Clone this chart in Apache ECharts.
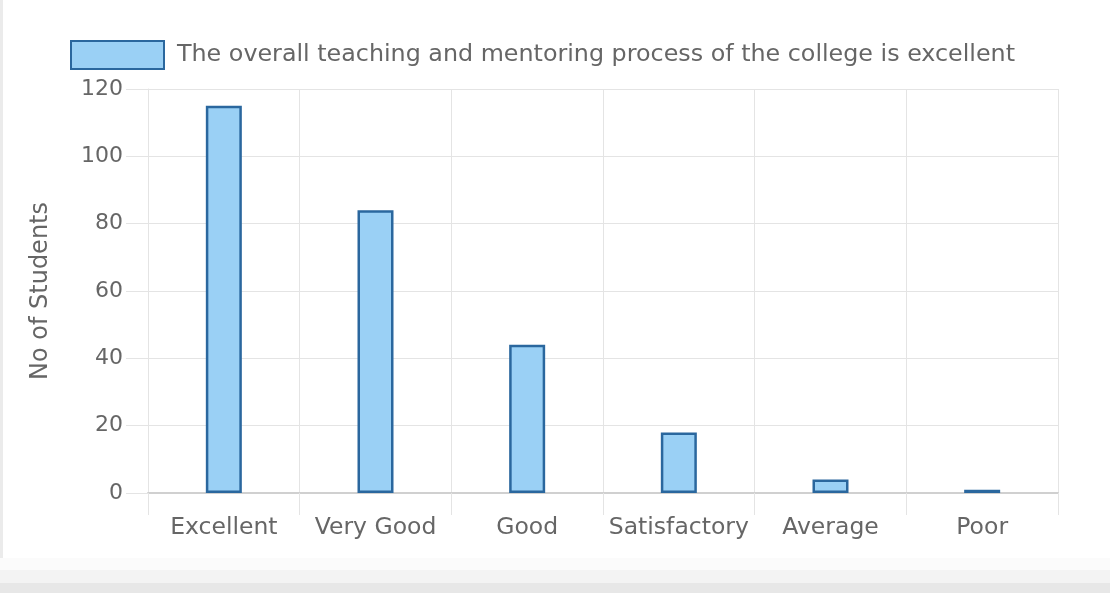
<!DOCTYPE html>
<html>
<head>
<meta charset="utf-8">
<script src="https://cdn.jsdelivr.net/npm/echarts@6/dist/echarts.min.js"></script>
<style>
html,body{margin:0;padding:0;background:#fff;}
#chart{width:1110px;height:593px;}
</style>
</head>
<body>
<div id="chart"></div>
<script>
// data
var categories = ["Excellent", "Very Good", "Good", "Satisfactory", "Average", "Poor"];
var students = [115, 84, 44, 18, 4, 1];
var seriesName = "The overall teaching and mentoring process of the college is excellent";
var yTicks = [0, 20, 40, 60, 80, 100, 120];

var FONT = "DejaVu Sans, Liberation Sans, Arial, sans-serif";
var TXT = "#666";

var myChart = echarts.init(document.getElementById("chart"));
var option = {
	backgroundColor: "#fff",
	animation: false,
	graphic: [
		// frame of the screenshot: left border and grey band at the bottom
		{type: "rect", left: 0, top: 0, shape: {width: 3, height: 586}, style: {fill: "#ebebeb"}},
		{type: "rect", left: 0, top: 558, shape: {width: 1110, height: 12}, style: {fill: "#fbfbfb"}},
		{type: "rect", left: 0, top: 570, shape: {width: 1110, height: 13}, style: {fill: "#f3f3f3"}},
		{type: "rect", left: 0, top: 583, shape: {width: 1110, height: 10}, style: {fill: "#e7e7e7"}}
	],
	legend: {
		left: 65,
		top: 35,
		itemWidth: 93,
		itemHeight: 28,
		icon: "rect",
		textStyle: {fontFamily: FONT, fontSize: 23.8, color: TXT, padding: [0, 0, 0, 8]},
		data: [seriesName]
	},
	grid: {left: 148, right: 52, top: 89, bottom: 100},
	xAxis: {
		type: "category",
		data: categories,
		boundaryGap: true,
		axisLine: {show: true, lineStyle: {color: "#d0d0d0", width: 2}},
		axisTick: {show: true, interval: 0, length: 22, lineStyle: {color: "#e4e4e4"}},
		splitLine: {show: true, interval: 0, lineStyle: {color: "#e4e4e4"}},
		axisLabel: {interval: 0, fontFamily: FONT, fontSize: 23.5, color: TXT, margin: 23}
	},
	yAxis: {
		type: "value",
		name: "No of Students",
		nameLocation: "middle",
		nameGap: 95,
		nameRotate: 90,
		nameTextStyle: {fontFamily: FONT, fontSize: 24, color: TXT},
		min: yTicks[0],
		max: yTicks[yTicks.length - 1],
		interval: 20,
		axisLine: {show: true, lineStyle: {color: "#e4e4e4"}},
		axisTick: {show: true, length: 22, lineStyle: {color: "#e4e4e4"}},
		splitLine: {show: true, lineStyle: {color: "#e4e4e4"}},
		axisLabel: {fontFamily: FONT, fontSize: 22, color: TXT, margin: 25}
	},
	series: [{
		name: seriesName,
		type: "bar",
		data: students,
		barWidth: 36,
		itemStyle: {color: "#9ad0f5", borderColor: "#2a679e", borderWidth: 2.5}
	}]
};
myChart.setOption(option);
</script>
</body>
</html>
